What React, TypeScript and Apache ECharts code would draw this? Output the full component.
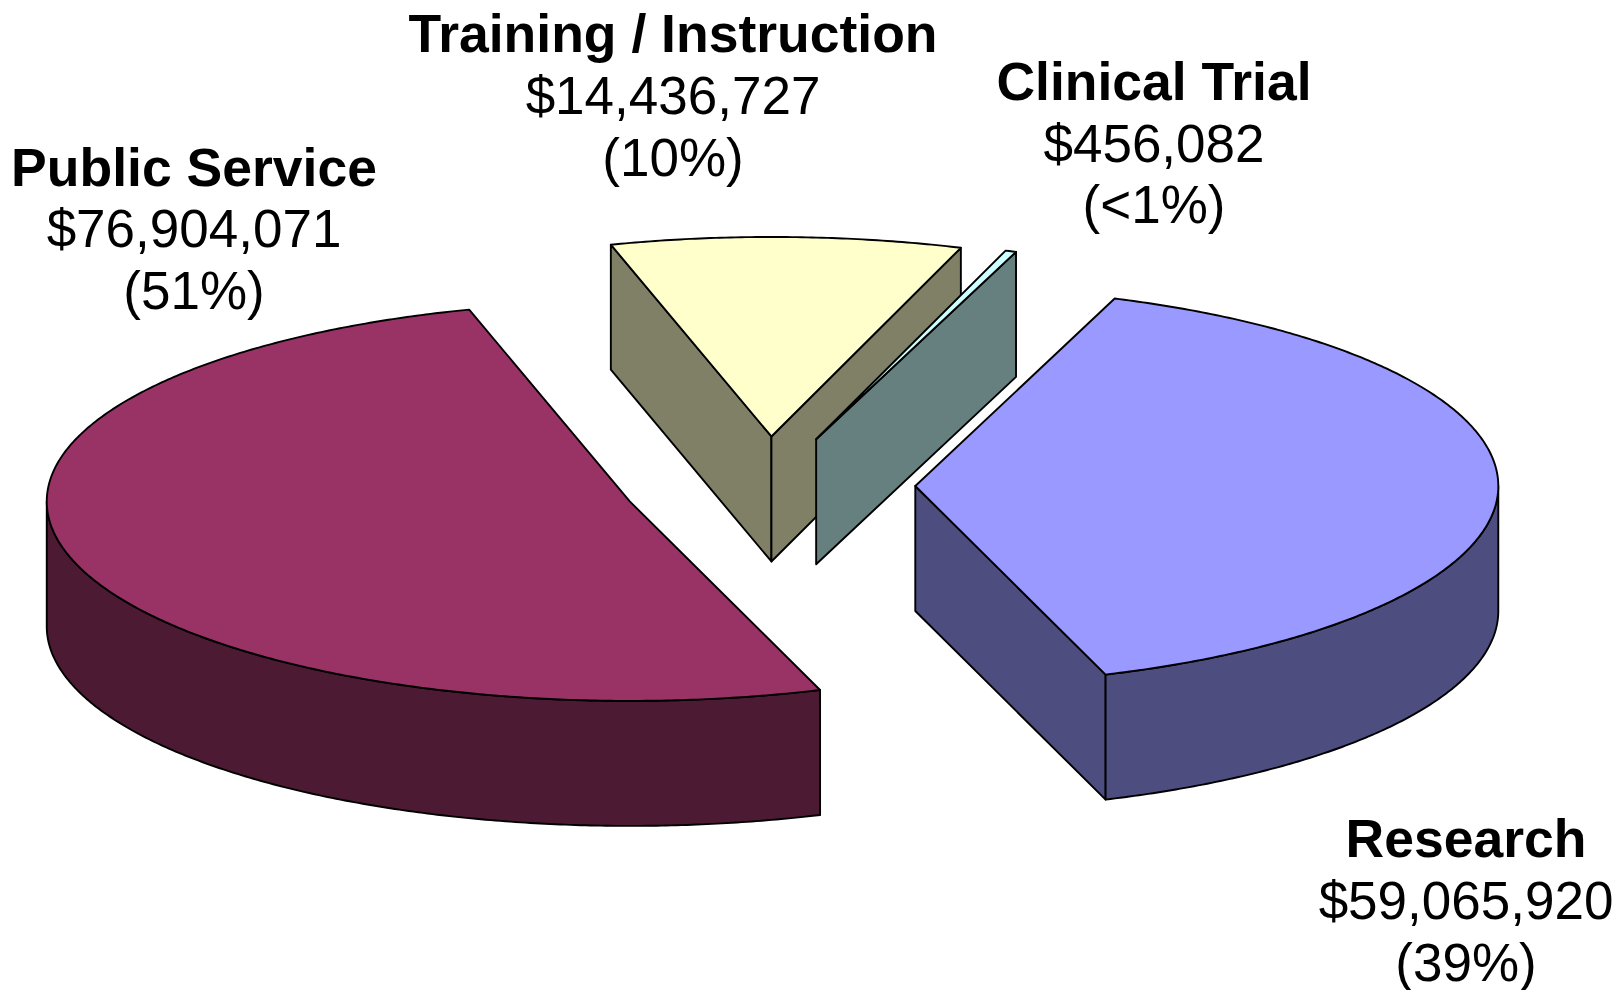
import React, { useEffect, useRef } from "react";
import * as echarts from "echarts";

const categories = ["Research", "Public Service", "Training / Instruction", "Clinical Trial"];
const amounts = [59065920, 76904071, 14436727, 456082];
const percentLabels = ["(39%)", "(51%)", "(10%)", "(<1%)"];
const topColors = ["#9999FF", "#993366", "#FFFFCC", "#CCFFFF"];
const sideColors = ["#4D4D80", "#4D1A33", "#808066", "#668080"];
const drawOrder = [2, 3, 1, 0];

// Layout of the 3D projection
const START_ANGLE = 20;
const CX = 767.7;
const CY = 485.6;
const RX = 583;
const RY = 199.5;
const DEPTH = 125;
const EXPLODE = 143.6;
const LINE = 1.9;
// small per-slice corrections for the original's perspective
const shiftX = [4, -1, 0, 0.5];
const shiftY = [0, 1, 0, 0];
const sweepNudge = [0, -0.45, 0.5, 0];

const labelCenterX = [1466, 194, 673, 1154];
const labelBaselines = [
  [857, 919, 981],
  [186, 247, 309],
  [52, 114, 176],
  [100, 162, 223],
];
const NAME_SIZE = 53.5;
const VALUE_SIZE = 53;
const FONT = '"Liberation Sans", Arial, sans-serif';

const total = amounts.reduce((s, v) => s + v, 0);
const rad = (d: number) => (d * Math.PI) / 180;

function sliceAngles(i: number) {
  let a = START_ANGLE;
  for (let k = 0; k < i; k++) a += (amounts[k] / total) * 360 + sweepNudge[k];
  return [a, a + (amounts[i] / total) * 360 + sweepNudge[i]];
}

function renderSlice(params: any) {
  const i = drawOrder[params.dataIndex];
  const [a, b] = sliceAngles(i);
  const mid = (a + b) / 2;
  const cx = CX + EXPLODE * Math.sin(rad(mid)) + shiftX[i];
  const cy = CY - (EXPLODE * RY * Math.cos(rad(mid))) / RX + shiftY[i];
  const pt = (t: number, drop = 0) => [cx + RX * Math.sin(rad(t)), cy - RY * Math.cos(rad(t)) + drop];
  const arc = (from: number, to: number, drop = 0) => {
    const n = Math.max(2, Math.ceil(Math.abs(to - from) * 2));
    const out: number[][] = [];
    for (let k = 0; k <= n; k++) out.push(pt(from + ((to - from) * k) / n, drop));
    return out;
  };
  const sideStyle = { fill: sideColors[i], stroke: "#000", lineWidth: LINE, lineJoin: "round" };
  const children: any[] = [];
  const wall = (t: number) => ({
    type: "polygon",
    shape: { points: [[cx, cy], pt(t), pt(t, DEPTH), [cx, cy + DEPTH]] },
    style: sideStyle,
  });
  if (Math.sin(rad(a)) < 0) children.push(wall(a));
  if (Math.sin(rad(b)) > 0) children.push(wall(b));
  const r0 = Math.max(a, 90);
  const r1 = Math.min(b, 270);
  if (r1 > r0) {
    children.push({
      type: "polygon",
      shape: { points: [...arc(r0, r1), ...arc(r1, r0, DEPTH)] },
      style: sideStyle,
    });
  }
  children.push({
    type: "polygon",
    shape: { points: [[cx, cy], ...arc(a, b)] },
    style: { fill: topColors[i], stroke: "#000", lineWidth: LINE, lineJoin: "round" },
  });
  return { type: "group", children };
}

function renderLabel(params: any) {
  const i = params.dataIndex;
  const lines = ["" + categories[i], "$" + amounts[i].toLocaleString("en-US"), percentLabels[i]];
  return {
    type: "group",
    children: lines.map((text, k) => {
      const size = k === 0 ? NAME_SIZE : VALUE_SIZE;
      return {
        type: "text",
        style: {
          text,
          x: labelCenterX[i],
          y: labelBaselines[i][k] - size * 0.35,
          fill: "#000",
          font: `${k === 0 ? "bold " : ""}${size}px ${FONT}`,
          textAlign: "center",
          textVerticalAlign: "middle",
        },
      };
    }),
  };
}

export default function App() {
  const ref = useRef<HTMLDivElement>(null);
  useEffect(() => {
    const chart = echarts.init(ref.current!, null, { renderer: "svg" });
    chart.setOption({
      animation: false,
      backgroundColor: "#fff",
      series: [
        {
          type: "custom",
          coordinateSystem: "none",
          silent: true,
          clip: false,
          data: drawOrder.map((i) => [amounts[i]]),
          renderItem: renderSlice,
        },
        {
          type: "custom",
          coordinateSystem: "none",
          silent: true,
          clip: false,
          z: 5,
          data: amounts.map((v) => [v]),
          renderItem: renderLabel,
        },
      ],
    });
    return () => chart.dispose();
  }, []);
  return <div ref={ref} style={{ position: "absolute", left: 0, top: 0, width: 1620, height: 990 }} />;
}
